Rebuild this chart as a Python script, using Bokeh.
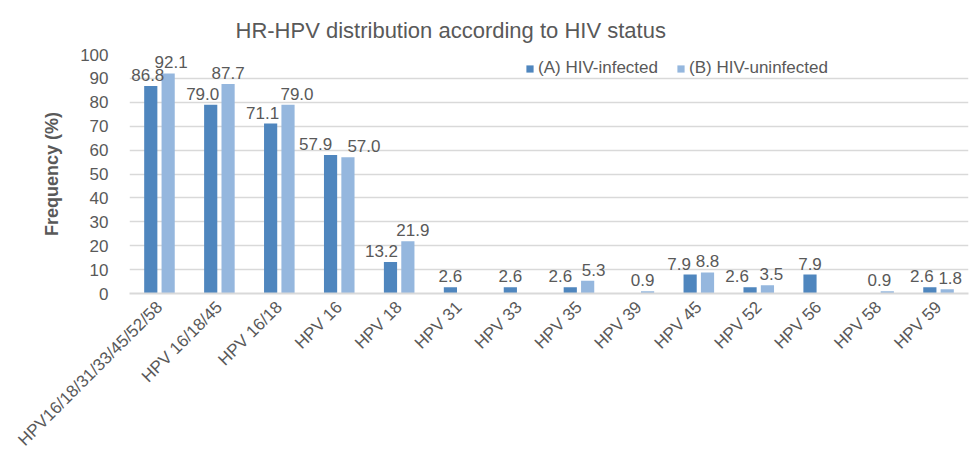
import math
from bokeh.plotting import figure
from bokeh.models import ColumnDataSource, FactorRange, LabelSet, Legend, LegendItem, Title
from bokeh.transform import dodge
from bokeh.core.properties import value
from bokeh.embed import file_html
from bokeh.resources import INLINE

categories = ["HPV16/18/31/33/45/52/58", "HPV 16/18/45", "HPV 16/18", "HPV 16", "HPV 18",
              "HPV 31", "HPV 33", "HPV 35", "HPV 39", "HPV 45", "HPV 52", "HPV 56", "HPV 58", "HPV 59"]
hiv_infected = [86.8, 79.0, 71.1, 57.9, 13.2, 2.6, 2.6, 2.6, 0.0, 7.9, 2.6, 7.9, 0.0, 2.6]
hiv_uninfected = [92.1, 87.7, 79.0, 57.0, 21.9, 0.0, 0.0, 5.3, 0.9, 8.8, 3.5, 0.0, 0.9, 1.8]
y_ticks = [0, 10, 20, 30, 40, 50, 60, 70, 80, 90, 100]

# horizontal nudges (px) of the data labels, as placed in the original to avoid overlaps
nudge_a = [-3, -8, -8, -15, -9, 0, 0, -10, 0, -11, -13, 0, 0, -8]
nudge_b = [3, 0, 9, 16, 5, 0, 0, 6, -5, 0, 4, 0, -8, 3]

name_a = "(A) HIV-infected"
name_b = "(B) HIV-uninfected"
color_a = "#4f86be"
color_b = "#95b7de"
text_color = "#595959"
font = "Liberation Sans"

src = ColumnDataSource(dict(cat=categories, a=hiv_infected, b=hiv_uninfected))


def label_source(vals, nudges):
    keep = [i for i, v in enumerate(vals) if v > 0]
    return ColumnDataSource(dict(cat=[categories[i] for i in keep],
                                 v=[vals[i] for i in keep],
                                 t=["%.1f" % vals[i] for i in keep],
                                 dx=[nudges[i] for i in keep]))


lab_a = label_source(hiv_infected, nudge_a)
lab_b = label_source(hiv_uninfected, nudge_b)

p = figure(x_range=FactorRange(*categories, range_padding=0), y_range=(0, 100),
           frame_width=839, frame_height=239, output_backend="svg", toolbar_location=None,
           min_border_left=129, min_border_top=54, min_border_right=8, min_border_bottom=0)
p.outline_line_color = None
p.background_fill_color = "white"

off = 0.145
w = 0.22
ra = p.vbar(x=dodge("cat", -off, range=p.x_range), top="a", width=w, source=src,
            fill_color=color_a, line_color=None)
rb = p.vbar(x=dodge("cat", off, range=p.x_range), top="b", width=w, source=src,
            fill_color=color_b, line_color=None)

la = LabelSet(x=dodge("cat", -off, range=p.x_range), y="v", text="t", source=lab_a,
              x_offset="dx", y_offset=5, text_align="center", text_baseline="bottom",
              text_font=value(font), text_font_size="17px", text_color=text_color)
lb = LabelSet(x=dodge("cat", off, range=p.x_range), y="v", text="t", source=lab_b,
              x_offset="dx", y_offset=5, text_align="center", text_baseline="bottom",
              text_font=value(font), text_font_size="17px", text_color=text_color)
p.add_layout(la)
p.add_layout(lb)

# axes
p.yaxis.ticker = y_ticks
p.yaxis.axis_line_color = None
p.yaxis.major_tick_line_color = None
p.yaxis.minor_tick_line_color = None
p.yaxis.major_label_standoff = 15
p.yaxis.major_label_text_font = font
p.yaxis.major_label_text_font_size = "17px"
p.yaxis.major_label_text_color = text_color
p.yaxis.axis_label = "Frequency (%)"
p.yaxis.axis_label_text_font = font
p.yaxis.axis_label_text_font_size = "18px"
p.yaxis.axis_label_text_font_style = "bold"
p.yaxis.axis_label_text_color = text_color
p.yaxis.axis_label_standoff = 15

p.xaxis.axis_line_color = "#d9d9d9"
p.xaxis.axis_line_width = 2
p.xaxis.major_tick_line_color = None
p.xaxis.minor_tick_line_color = None
p.xaxis.major_label_orientation = math.pi / 4
p.xaxis.major_label_standoff = 5
p.xaxis.major_label_text_font = font
p.xaxis.major_label_text_font_size = "17px"
p.xaxis.major_label_text_color = text_color

p.xgrid.grid_line_color = None
p.ygrid.grid_line_color = "#d9d9d9"
p.ygrid.grid_line_width = 1.5

p.title = Title(text="HR-HPV distribution according to HIV status", align="left", offset=106,
                text_font=font, text_font_size="22px", text_font_style="normal",
                text_color=text_color, standoff=24)

legend = Legend(items=[LegendItem(label=name_a, renderers=[ra]),
                       LegendItem(label=name_b, renderers=[rb])],
                orientation="horizontal", location=(396, 215),
                glyph_width=9, glyph_height=9, label_standoff=4, spacing=18,
                padding=0, margin=0, border_line_color=None, background_fill_alpha=0,
                label_text_font=font, label_text_font_size="17px", label_text_color=text_color)
p.add_layout(legend)

open("out.html", "w").write(file_html(p, INLINE))
